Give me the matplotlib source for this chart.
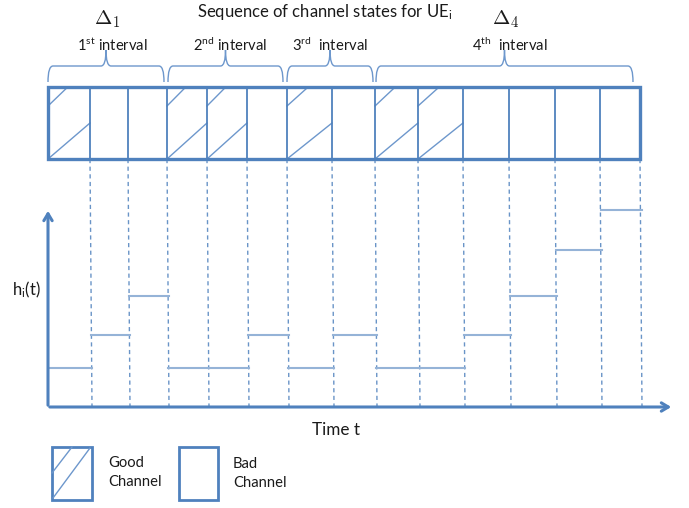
import matplotlib
matplotlib.use("Agg")
import matplotlib.pyplot as plt
from matplotlib.path import Path
from matplotlib.patches import PathPatch, Rectangle

plt.rcParams['font.family'] = ['Lato', 'DejaVu Sans']
plt.rcParams['mathtext.fontset'] = 'custom'
plt.rcParams['mathtext.rm'] = 'Lato'
plt.rcParams['mathtext.it'] = 'Lato:italic'

# ---- data ----
slot_edges = [48, 90, 128, 167, 207, 247, 287, 332, 375, 418, 463, 509, 555, 600, 640]
states = ['good', 'bad', 'bad', 'good', 'good', 'bad', 'good', 'bad', 'good', 'good',
          'bad', 'bad', 'bad', 'bad']
h_levels = [39, 72, 111, 39, 39, 72, 39, 72, 39, 39, 72, 111, 157, 197]
interval_labels = ['1$^{\\rm st}$ interval', '2$^{\\rm nd}$ interval',
                   '3$^{\\rm rd}$  interval', '4$^{\\rm th}$  interval']
delta_labels = {0: '$\\Delta_1$', 3: '$\\Delta_4$'}
title = 'Sequence of channel states for UE$_{\\rm i}$'

BLUE = '#4F81BD'
LBLUE = '#6d97cc'
STEP = '#95b3d7'
TXT = '#1a1a1a'

fig = plt.figure(figsize=(6.89, 5.08), dpi=100)
ax = fig.add_axes([0, 0, 1, 1])
ax.set_xlim(0, 689)
ax.set_ylim(508, 0)
ax.axis('off')

box_top, box_bot = 87, 159
axis_y = 407

# top state box
for i, s in enumerate(states):
    x0, x1 = slot_edges[i], slot_edges[i + 1]
    if i > 0:
        ax.plot([x0, x0], [box_top, box_bot], color=BLUE, lw=1.3, zorder=3)
    if s == 'good':
        w = x1 - x0
        ax.plot([x0, x0 + 0.47 * w], [box_top + 19, box_top], color=LBLUE, lw=1.0, zorder=2)
        ax.plot([x0, x1], [box_bot, box_top + 36], color=LBLUE, lw=1.0, zorder=2)
ax.add_patch(Rectangle((slot_edges[0], box_top), slot_edges[-1] - slot_edges[0],
                       box_bot - box_top, fill=False, ec=BLUE, lw=2.4, zorder=4))

# braces
def brace(x0, x1, xm, y_end=82, y_base=66, y_tip=50, r=5):
    verts = [(x0, y_end), (x0, y_base), (x0 + r, y_base),
             (xm - r, y_base), (xm, y_base), (xm, y_tip),
             (xm, y_tip), (xm, y_base), (xm + r, y_base),
             (x1 - r, y_base), (x1, y_base), (x1, y_end)]
    codes = [Path.MOVETO, Path.CURVE3, Path.CURVE3,
             Path.LINETO, Path.CURVE3, Path.CURVE3,
             Path.MOVETO, Path.CURVE3, Path.CURVE3,
             Path.LINETO, Path.CURVE3, Path.CURVE3]
    ax.add_patch(PathPatch(Path(verts, codes), fill=False, ec=LBLUE, lw=1.0))

brace_ends = [(48, 164), (168, 283), (287, 373), (376, 633)]
label_x = [112, 230, 330, 510]
for k in range(len(interval_labels)):
    x0, x1 = brace_ends[k]
    xm = (x0 + x1) / 2
    brace(x0, x1, xm)
    ax.text(label_x[k], 45, interval_labels[k], ha='center', va='center', fontsize=10.6, color=TXT)
    if k in delta_labels:
        ax.text(xm + 1, 19, delta_labels[k], ha='center', va='center', fontsize=15,
                color=TXT, math_fontfamily='cm')

ax.text(325, 12, title, ha='center', va='center', fontsize=12, color=TXT)

# dashed guide lines
for x in slot_edges[1:]:
    ax.plot([x, x + 2], [box_bot, axis_y], color=BLUE, lw=1.0, ls=(0, (3, 2.5)), alpha=0.85, zorder=1)

# step levels
for i, v in enumerate(h_levels):
    x0, x1 = slot_edges[i], slot_edges[i + 1]
    ax.plot([x0 + 1, x1 + 2], [axis_y - v, axis_y - v], color=STEP, lw=1.5, zorder=2)

# axes arrows
ax.annotate('', xy=(48, 208), xytext=(48, axis_y + 1),
            arrowprops=dict(arrowstyle='->,head_length=0.5,head_width=0.3', color=BLUE, lw=2.2))
ax.annotate('', xy=(674, axis_y), xytext=(47, axis_y),
            arrowprops=dict(arrowstyle='->,head_length=0.5,head_width=0.3', color=BLUE, lw=2.2))

ax.text(12, 290, 'h$_{\\rm i}$(t)', ha='left', va='center', fontsize=12, color=TXT)
ax.text(336, 430, 'Time t', ha='center', va='center', fontsize=12.3, color=TXT)

# legend
ax.add_patch(Rectangle((52, 447), 40, 53, fill=False, ec=BLUE, lw=2.0))
ax.plot([52, 72], [473, 447], color=LBLUE, lw=1.0)
ax.plot([53, 90], [498, 448], color=LBLUE, lw=1.0)
ax.text(108, 463, 'Good', ha='left', va='center', fontsize=10.6, color=TXT)
ax.text(108, 482, 'Channel', ha='left', va='center', fontsize=10.6, color=TXT)
ax.add_patch(Rectangle((179, 447), 39, 53, fill=False, ec=BLUE, lw=2.0))
ax.text(233, 464, 'Bad', ha='left', va='center', fontsize=10.6, color=TXT)
ax.text(233, 483, 'Channel', ha='left', va='center', fontsize=10.6, color=TXT)

fig.savefig('out.png', dpi=100)
